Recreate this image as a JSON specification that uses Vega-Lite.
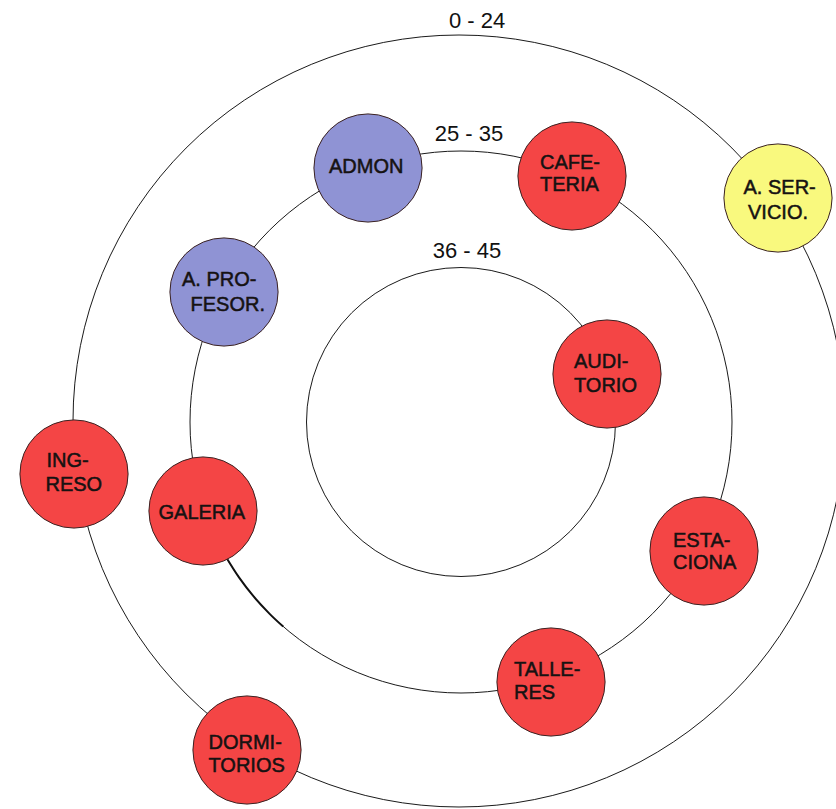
{
  "$schema": "https://vega.github.io/schema/vega-lite/v6.json",
  "autosize": {"type": "none"},
  "width": 836,
  "height": 809,
  "padding": 0,
  "background": "white",
  "config": {"view": {"stroke": null}},
  "datasets": {
    "rings": [
      {"ring": "0 - 24", "x": 459, "y": 421, "radius": 386},
      {"ring": "25 - 35", "x": 461, "y": 422, "radius": 271},
      {"ring": "36 - 45", "x": 461, "y": 422, "radius": 154.5}
    ],
    "ringLabels": [
      {"text": "0 - 24", "x": 477, "y": 21},
      {"text": "25 - 35", "x": 469, "y": 134},
      {"text": "36 - 45", "x": 467, "y": 251}
    ],
    "thick": [
      {"i": 1, "x": 226.3, "y": 557.5},
      {"i": 2, "x": 239.0, "y": 577.4},
      {"i": 3, "x": 253.4, "y": 596.2},
      {"i": 4, "x": 269.4, "y": 613.6},
      {"i": 5, "x": 283.2, "y": 626.6}
    ],
    "nodes": [
      {"name": "ADMON", "group": "admin", "x": 368, "y": 168},
      {"name": "CAFETERIA", "group": "general", "x": 572, "y": 176},
      {"name": "A. SERVICIO.", "group": "service", "x": 778, "y": 198},
      {"name": "A. PROFESOR.", "group": "admin", "x": 224, "y": 292},
      {"name": "AUDITORIO", "group": "general", "x": 607, "y": 374},
      {"name": "INGRESO", "group": "general", "x": 74, "y": 474},
      {"name": "GALERIA", "group": "general", "x": 203, "y": 511},
      {"name": "ESTACIONA", "group": "general", "x": 704, "y": 551},
      {"name": "TALLERES", "group": "general", "x": 551, "y": 682},
      {"name": "DORMITORIOS", "group": "general", "x": 247, "y": 750}
    ],
    "lines": [
      {"text": "ADMON", "x": 329, "y": 166.7},
      {"text": "CAFE-", "x": 540, "y": 162.5},
      {"text": "TERIA", "x": 540, "y": 185},
      {"text": "A. SER-", "x": 743.5, "y": 188.3},
      {"text": "VICIO.", "x": 748, "y": 212.7},
      {"text": "A. PRO-", "x": 182, "y": 279.5},
      {"text": "FESOR.", "x": 190.5, "y": 305},
      {"text": "AUDI-", "x": 574, "y": 361.7},
      {"text": "TORIO", "x": 574, "y": 385.8},
      {"text": "ING-", "x": 46.5, "y": 461.3},
      {"text": "RESO", "x": 45.5, "y": 484.7},
      {"text": "GALERIA", "x": 158.5, "y": 512.5},
      {"text": "ESTA-", "x": 673, "y": 541},
      {"text": "CIONA", "x": 673, "y": 563.3},
      {"text": "TALLE-", "x": 514, "y": 670},
      {"text": "RES", "x": 514, "y": 693.3},
      {"text": "DORMI-", "x": 208.5, "y": 742.5},
      {"text": "TORIOS", "x": 208.5, "y": 765.8}
    ]
  },
  "encoding": {
    "x": {"field": "x", "type": "quantitative", "scale": {"domain": [0, 836], "nice": false, "zero": false}, "axis": null},
    "y": {"field": "y", "type": "quantitative", "scale": {"domain": [0, 809], "nice": false, "zero": false, "reverse": true}, "axis": null}
  },
  "layer": [
    {
      "data": {"name": "rings"},
      "mark": {"type": "point", "shape": "circle", "filled": false, "stroke": "#1a1a1a", "strokeWidth": 1, "opacity": 1},
      "encoding": {
        "size": {"field": "radius", "type": "quantitative", "scale": {"type": "pow", "exponent": 2, "domain": [0, 500], "range": [0, 1000000]}, "legend": null}
      }
    },
    {
      "data": {"name": "thick"},
      "mark": {"type": "line", "interpolate": "cardinal", "stroke": "#111111", "strokeWidth": 2},
      "encoding": {"order": {"field": "i", "type": "quantitative"}}
    },
    {
      "data": {"name": "nodes"},
      "mark": {"type": "point", "shape": "circle", "filled": true, "size": 11700, "stroke": "#3a2222", "strokeWidth": 1, "opacity": 1, "fillOpacity": 1},
      "encoding": {
        "color": {"field": "group", "type": "nominal", "scale": {"domain": ["admin", "general", "service"], "range": ["#8f93d4", "#f44545", "#f9f97e"]}, "legend": null}
      }
    },
    {
      "data": {"name": "lines"},
      "mark": {"type": "text", "align": "left", "baseline": "middle", "font": "Liberation Sans", "fontSize": 20, "fill": "#161212", "stroke": "#161212", "strokeWidth": 0.5},
      "encoding": {"text": {"field": "text", "type": "nominal"}}
    },
    {
      "data": {"name": "ringLabels"},
      "mark": {"type": "text", "align": "center", "baseline": "middle", "font": "Liberation Sans", "fontSize": 22, "fill": "#111111"},
      "encoding": {"text": {"field": "text", "type": "nominal"}}
    }
  ]
}
